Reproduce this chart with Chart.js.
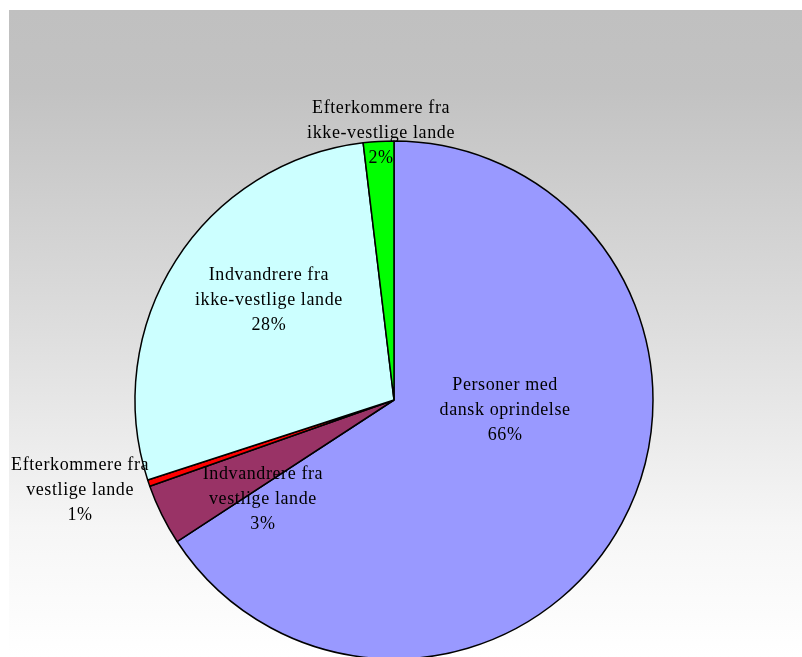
<!DOCTYPE html>
<html>
<head>
<meta charset="utf-8">
<script src="https://cdn.jsdelivr.net/npm/chart.js@4/dist/chart.umd.min.js"></script>
<style>
  html, body { margin: 0; padding: 0; background: #fff; overflow: hidden; }
  #wrap { width: 802px; height: 657px; position: relative; }
</style>
</head>
<body>
<div id="wrap"><canvas id="pie"></canvas></div>
<script>
// Slices, clockwise from 12 o'clock
const categories = [
  'Personer med dansk oprindelse',
  'Indvandrere fra vestlige lande',
  'Efterkommere fra vestlige lande',
  'Indvandrere fra ikke-vestlige lande',
  'Efterkommere fra ikke-vestlige lande'
];
const labelLines = [
  ['Personer med', 'dansk oprindelse'],
  ['Indvandrere fra', 'vestlige lande'],
  ['Efterkommere fra', 'vestlige lande'],
  ['Indvandrere fra', 'ikke-vestlige lande'],
  ['Efterkommere fra', 'ikke-vestlige lande']
];
const shares = [65.8, 3.8, 0.4, 28.1, 1.9];
const pctLabels = ['66%', '3%', '1%', '28%', '2%'];
const sliceColors = ['#9999ff', '#993366', '#ff0000', '#ccffff', '#00ff00'];

// label anchor relative to pie centre, in units of radius (layout only)
const labelOffsets = [
  [0.429, 0.039],
  [-0.506, 0.382],
  [-1.212, 0.347],
  [-0.483, -0.386],
  [-0.050, -1.031]
];

// Gray-to-white plot area behind the pie
const plotBackground = {
  id: 'plotBackground',
  beforeDraw(chart) {
    const ctx = chart.ctx;
    const g = ctx.createLinearGradient(0, 10, 0, 657);
    g.addColorStop(0, '#c0c0c0');
    g.addColorStop(0.12, '#c2c2c2');
    g.addColorStop(0.5, '#dedede');
    g.addColorStop(0.8, '#f6f6f6');
    g.addColorStop(1, '#ffffff');
    ctx.save();
    ctx.fillStyle = g;
    ctx.fillRect(9, 10, chart.width - 9, chart.height - 10);
    ctx.restore();
  }
};

// Multi-line slice labels
const sliceLabels = {
  id: 'sliceLabels',
  afterDatasetsDraw(chart) {
    const ctx = chart.ctx;
    const arcs = chart.getDatasetMeta(0).data;
    ctx.save();
    ctx.font = '18px "Liberation Serif", "Times New Roman", serif';
    ctx.letterSpacing = '0.6px';
    ctx.fillStyle = '#000';
    ctx.textAlign = 'center';
    ctx.textBaseline = 'middle';
    arcs.forEach((arc, i) => {
      const r = arc.outerRadius;
      const cx = arc.x + labelOffsets[i][0] * r;
      const cy = arc.y + labelOffsets[i][1] * r;
      const lines = labelLines[i].concat(pctLabels[i]);
      const lh = 25;
      lines.forEach((t, k) => {
        ctx.fillText(t, cx, cy + (k - 1) * lh);
      });
    });
    ctx.restore();
  }
};

new Chart(document.getElementById('pie'), {
  type: 'pie',
  data: {
    labels: categories,
    datasets: [{
      data: shares,
      backgroundColor: sliceColors,
      borderColor: '#000',
      borderWidth: 1.5,
      clip: false
    }]
  },
  options: {
    responsive: true,
    maintainAspectRatio: false,
    animation: false,
    radius: 259,
    layout: { padding: { left: 0, right: 14, top: 143, bottom: 0 } },
    plugins: {
      legend: { display: false },
      tooltip: { enabled: false }
    }
  },
  plugins: [plotBackground, sliceLabels]
});
</script>
</body>
</html>
